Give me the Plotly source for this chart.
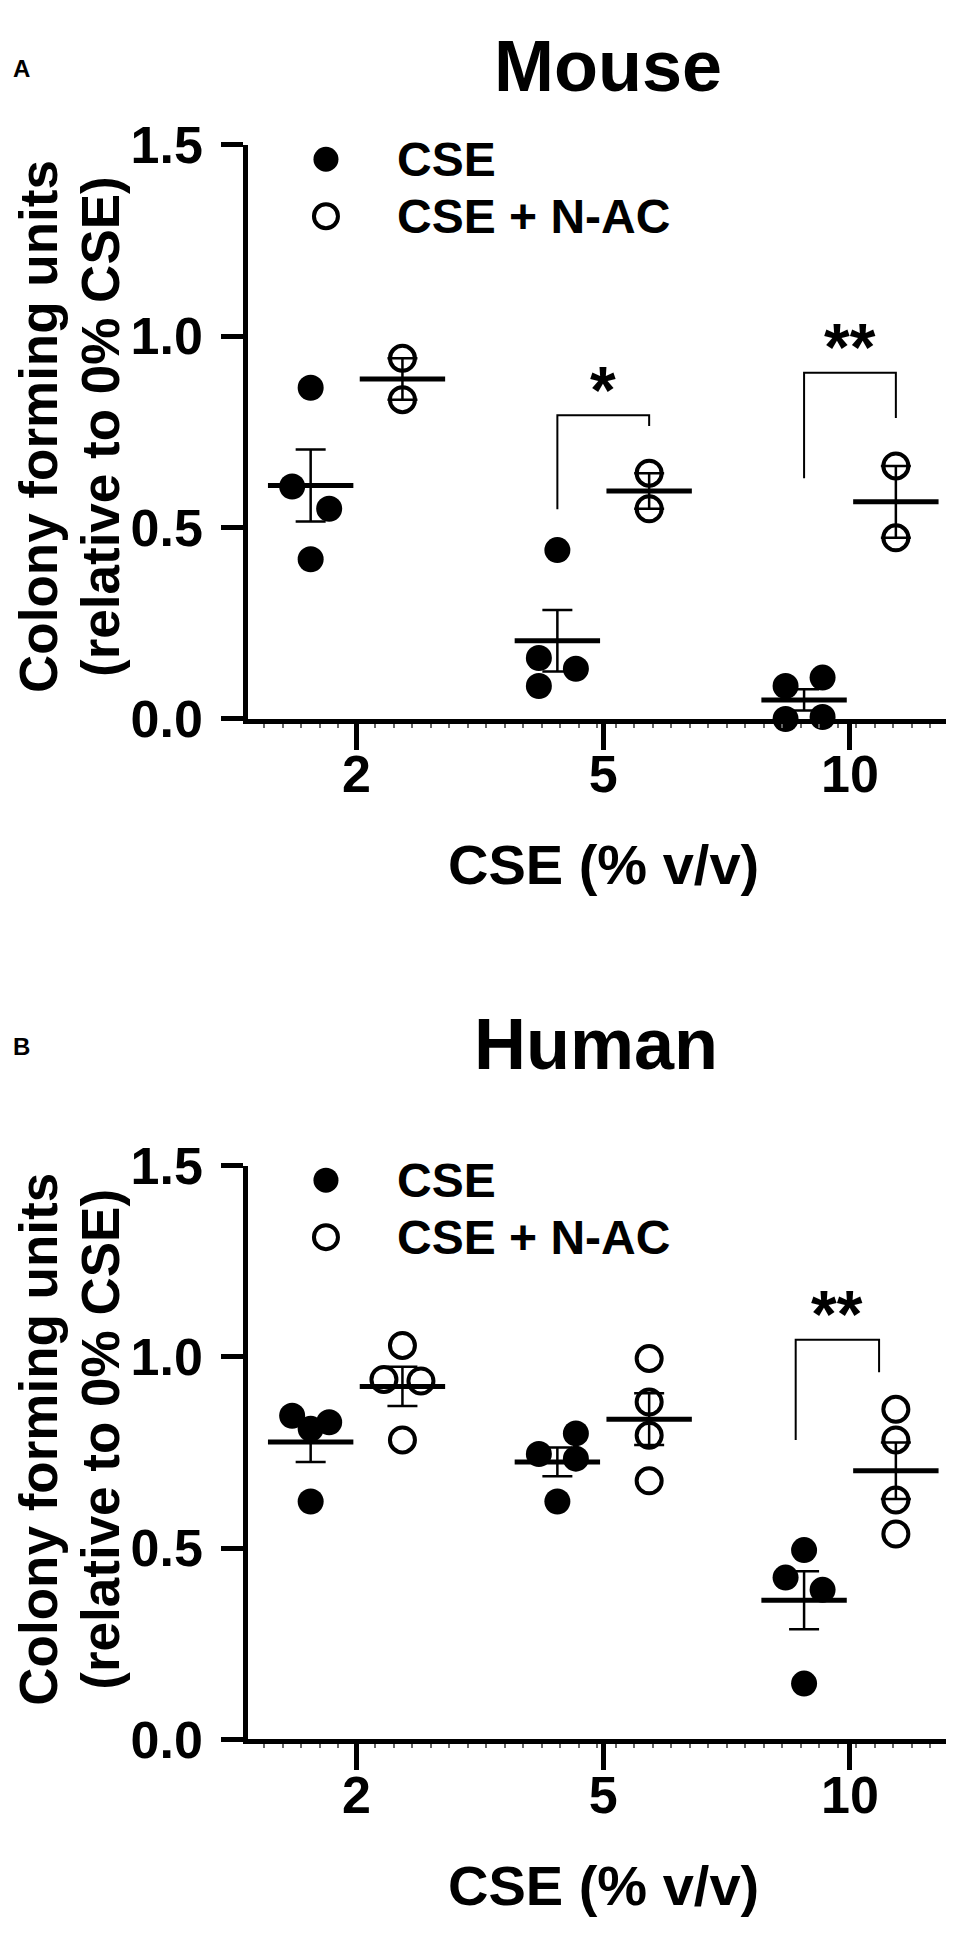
import numpy as np
import plotly.graph_objects as go

# CSE concentration groups (% v/v)
conc_labels = ["2", "5", "10"]

# Mouse: colony forming units relative to 0% CSE
mouse_cse = [[0.865, 0.607, 0.549, 0.417],
             [0.441, 0.159, 0.131, 0.086],
             [0.086, 0.108, 0.000, 0.005]]
mouse_nac = [[0.942, 0.834],
             [0.642, 0.549],
             [0.661, 0.473]]

# Human: colony forming units relative to 0% CSE
human_cse = [[0.846, 0.829, 0.812, 0.622],
             [0.746, 0.800, 0.734, 0.622],
             [0.495, 0.423, 0.391, 0.146]]
human_nac = [[1.030, 0.941, 0.937, 0.783],
             [0.996, 0.882, 0.795, 0.676],
             [0.863, 0.783, 0.626, 0.537]]

# significance brackets: (group, left leg bottom, right leg bottom, top, label)
mouse_sig = [(1, 0.548, 0.765, 0.793, "*"), (2, 0.629, 0.786, 0.904, "**")]
human_sig = [(2, 0.783, 0.960, 1.045, "**")]

legend_labels = ["CSE", "CSE + N-AC"]

#%% styling / placement
FONT = "Liberation Sans"
W, H = 954, 1936
OFF = 0.186          # group offset of each treatment from the tick
JIT = 0.075          # horizontal spread of the points
mouse_cse_jit = [[0, -1, 1, 0], [0, -1, 1, -1], [-1, 1, -1, 1]]
mouse_nac_jit = [[0, 0], [0, 0], [0, 0]]
human_cse_jit = [[-1, 1, 0, 0], [-1, 1, 1, 0], [0, -1, 1, 0]]
human_nac_jit = [[0, -1, 1, 0], [0, 0, 0, 0], [0, 0, 0, 0]]
mouse_legs = [(-OFF, OFF), (-OFF, OFF)]
human_legs = [(-0.22, 0.118)]


def py(px):
    return 1 - px / H


def bold(size):
    return dict(family=FONT, size=size, color="black", weight="bold")


fig = go.Figure()
annotations = []
shapes = []


def note(x, y, text, size, **kw):
    d = dict(x=x, y=y, text=text, showarrow=False, font=bold(size),
             xanchor="center", yanchor="middle", xref="paper", yref="paper")
    d.update(kw)
    annotations.append(d)


def add_panel(xa, ya, cse, nac, cse_jit, nac_jit, sig, legs):
    # individual points
    for vals, jit, off, sym in [(cse, cse_jit, -OFF, "circle"), (nac, nac_jit, OFF, "circle-open")]:
        xs, ys = [], []
        for g in range(len(vals)):
            for v, j in zip(vals[g], jit[g]):
                xs.append(g + off + j * JIT)
                ys.append(v)
        if sym == "circle":
            mk = dict(symbol=sym, size=26, color="black", line=dict(width=0))
        else:
            mk = dict(symbol=sym, size=25, color="black", line=dict(width=4, color="black"))
        fig.add_trace(go.Scatter(x=xs, y=ys, mode="markers", marker=mk, cliponaxis=False,
                                 xaxis=xa, yaxis=ya, showlegend=False))
    # mean +- SEM
    for vals, off in [(cse, -OFF), (nac, OFF)]:
        xs = [g + off for g in range(len(vals))]
        means = [np.mean(v) for v in vals]
        sems = [np.std(v, ddof=1) / np.sqrt(len(v)) for v in vals]
        fig.add_trace(go.Scatter(x=xs, y=means, mode="markers", cliponaxis=False,
                                 marker=dict(symbol="line-ew", size=61, color="black",
                                             line=dict(width=5, color="black")),
                                 xaxis=xa, yaxis=ya, showlegend=False))
        fig.add_trace(go.Scatter(x=xs, y=means, mode="markers", cliponaxis=False,
                                 marker=dict(size=1, color="rgba(0,0,0,0)"),
                                 error_y=dict(type="data", array=sems, visible=True,
                                              thickness=2.5, width=15, color="black"),
                                 xaxis=xa, yaxis=ya, showlegend=False))
    # significance brackets
    for (g, lb, rb, top, lab), (lo, ro) in zip(sig, legs):
        shapes.append(dict(type="path", xref=xa, yref=ya,
                           path=f"M {g+lo},{lb} L {g+lo},{top} L {g+ro},{top} L {g+ro},{rb}",
                           line=dict(color="black", width=2)))
        note(g + (lo + ro) / 2, top + 0.085, lab, 66, xref=xa, yref=ya, yshift=-7)
    # legend
    for i, (lab, sym) in enumerate(zip(legend_labels, ["circle", "circle-open"])):
        yy = [1.462, 1.313][i]
        if sym == "circle":
            mk = dict(symbol=sym, size=25, color="black")
        else:
            mk = dict(symbol=sym, size=24, color="black", line=dict(width=4, color="black"))
        fig.add_trace(go.Scatter(x=[-0.124], y=[yy], mode="markers", marker=mk, cliponaxis=False,
                                 xaxis=xa, yaxis=ya, showlegend=False, hoverinfo="skip"))
        note(0.156, yy, lab, 48, xref=xa, yref=ya, xanchor="left")


add_panel("x", "y", mouse_cse, mouse_nac, mouse_cse_jit, mouse_nac_jit, mouse_sig, mouse_legs)
add_panel("x2", "y2", human_cse, human_nac, human_cse_jit, human_nac_jit, human_sig, human_legs)

xdom = [240 / W, 952 / W]
xr = [-0.44, 2.446]


def xaxis(anchor):
    return dict(domain=xdom, range=xr, anchor=anchor, tickvals=[0, 1, 2], ticktext=conc_labels,
                showline=True, linewidth=4.5, linecolor="black", ticks="outside", ticklen=26,
                tickwidth=4.5, tickcolor="black", tickfont=bold(52), showgrid=False,
                zeroline=False, ticklabelstandoff=-20,
                minor=dict(ticks="outside", ticklen=4, tickwidth=1.5, tickcolor="#666",
                           dtick=0.075, tick0=0, showgrid=False))


def yaxis(anchor, top, bottom):
    return dict(domain=[py(bottom), py(top)], range=[0, 1.5], anchor=anchor,
                tickvals=[0, 0.5, 1.0, 1.5], ticktext=["0.0", "0.5", "1.0", "1.5"],
                showline=True, linewidth=4.5, linecolor="black", ticks="outside", ticklen=22,
                tickwidth=4.5, tickcolor="black", tickfont=bold(52), showgrid=False,
                zeroline=False, ticklabelstandoff=8)


# panel titles, letters, axis titles
for letter, ly, title, tx, ty, ycen, xlab_y in [("A", 32, "Mouse", 600, 30, 402, 853),
                                                 ("B", 1041, "Human", 588, 1038, 1446, 1906)]:
    note(13 / W, py(ly), letter, 24)
    note(tx / W, py(ty), title, 72)
    note(31 / W, py(ycen), "Colony forming units", 53, textangle=-90)
    note(93 / W, py(ycen), "(relative to 0% CSE)", 53, textangle=-90)
    note(595 / W, py(xlab_y), "CSE (% v/v)", 56)

fig.update_layout(
    width=W, height=H,
    margin=dict(l=0, r=0, t=0, b=0),
    paper_bgcolor="white", plot_bgcolor="white",
    showlegend=False,
    xaxis=xaxis("y"), yaxis=yaxis("x", 111, 703),
    xaxis2=xaxis("y2"), yaxis2=yaxis("x2", 1163.5, 1755),
    annotations=annotations, shapes=shapes,
)

fig.write_html("out.html")
